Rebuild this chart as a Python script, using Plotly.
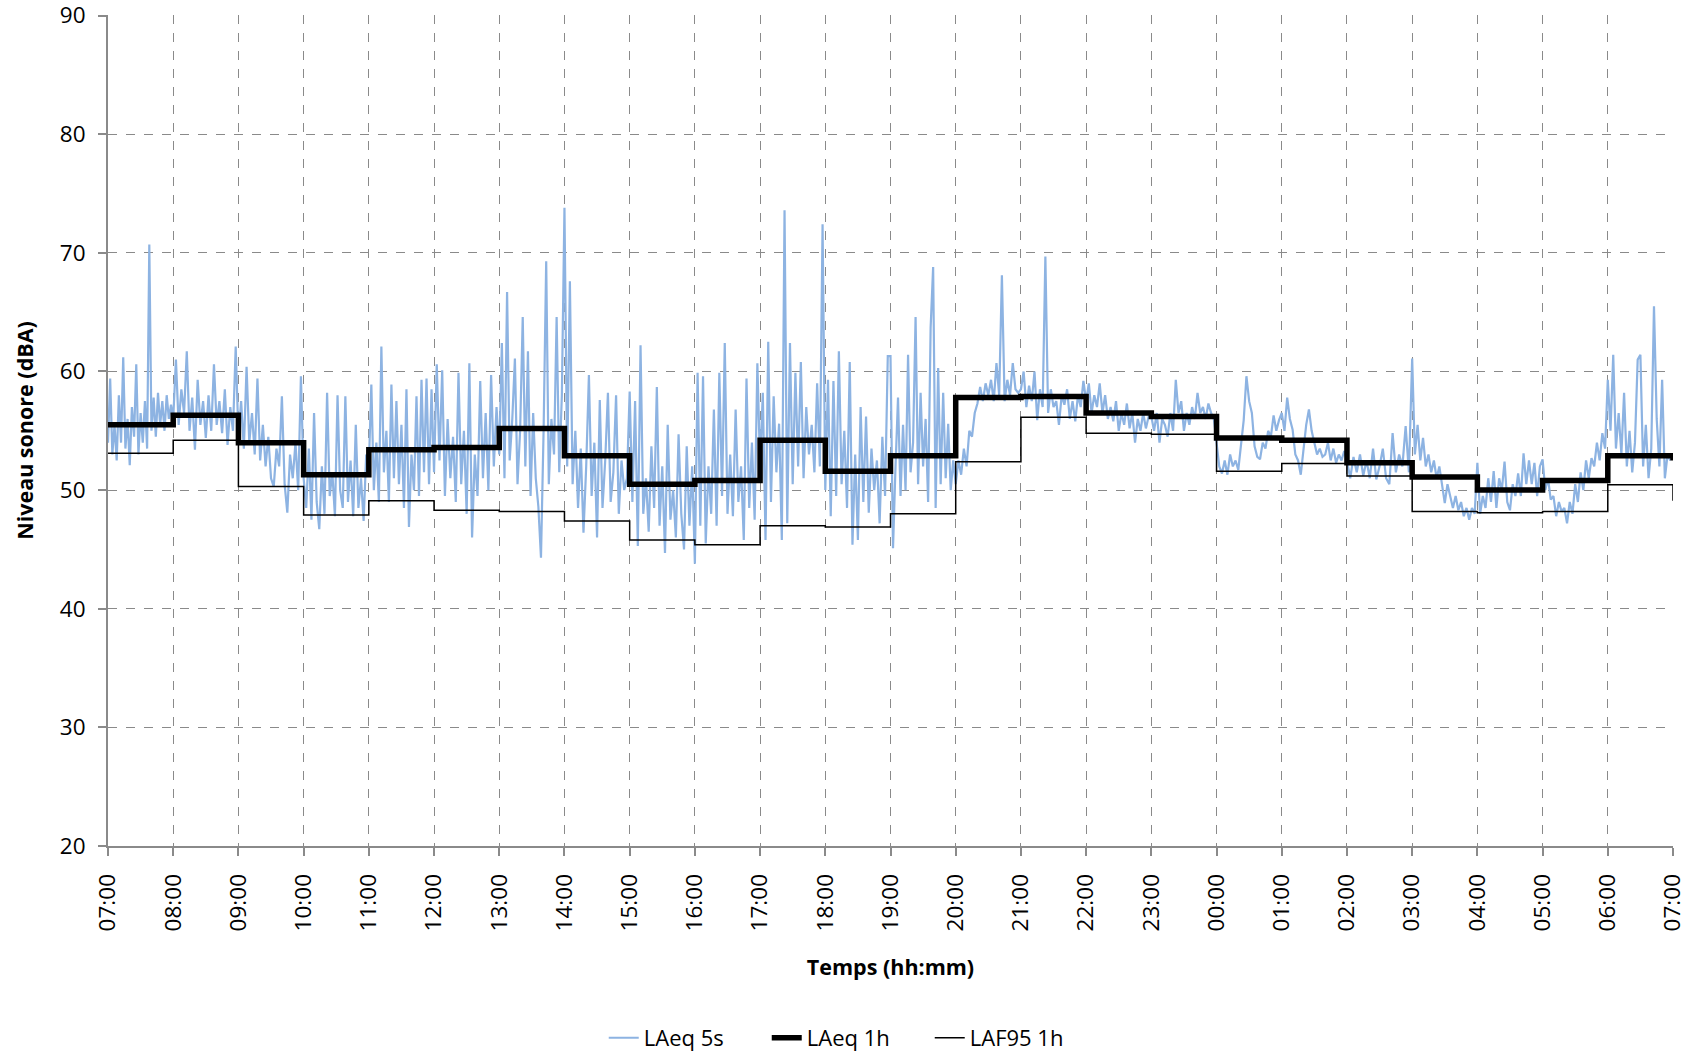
import plotly.graph_objects as go

# ---------------- data ----------------
tick_labels = ["07:00", "08:00", "09:00", "10:00", "11:00", "12:00", "13:00", "14:00",
               "15:00", "16:00", "17:00", "18:00", "19:00", "20:00", "21:00", "22:00",
               "23:00", "00:00", "01:00", "02:00", "03:00", "04:00", "05:00", "06:00", "07:00"]

# LAeq 1h (one value per hour, plus closing value at 07:00)
laeq_1h = [55.5, 56.3, 54.0, 51.3, 53.4, 53.6, 55.2, 52.9, 50.5, 50.8, 54.2, 51.6,
           52.9, 57.8, 57.9, 56.5, 56.2, 54.4, 54.2, 52.3, 51.1, 50.0, 50.8, 52.9, 52.5]
# LAF95 1h
laf95_1h = [53.1, 54.2, 50.3, 47.9, 49.1, 48.3, 48.2, 47.4, 45.8, 45.4, 47.0, 46.9,
            48.0, 52.4, 56.15, 54.8, 54.7, 51.6, 52.25, 51.2, 48.2, 48.1, 48.2, 50.45, 49.1]

# LAeq 5s, read hour by hour
h07 = [54.0, 59.4, 53.0, 55.5, 52.5, 58.0, 54.0, 61.2, 53.5, 56.0, 52.1, 57.0, 54.5, 60.6, 53.0,
       56.5, 54.0, 57.5, 53.5, 70.7, 55.0, 57.8, 54.5, 58.2, 55.5, 57.5, 55.0, 58.0, 56.0, 57.2]
h08 = [56.0, 61.0, 55.5, 58.5, 56.5, 61.7, 55.0, 57.8, 53.4, 59.3, 55.5, 57.5, 54.4, 58.0, 55.0,
       60.6, 55.5, 57.5, 54.8, 58.5, 53.8, 57.0, 55.0, 62.1]
h09 = [54.5, 57.5, 53.5, 60.4, 54.0, 56.5, 53.0, 59.4, 52.5, 55.5, 52.0, 54.5, 51.0, 50.3, 53.5,
       52.0, 57.9, 50.5, 48.1, 53.0, 51.0, 54.0, 50.0, 59.6]
h10 = [51.0, 48.5, 53.5, 47.5, 56.5, 49.0, 46.7, 52.0, 48.0, 58.2, 49.5, 51.5, 47.8, 58.0, 50.0,
       48.5, 57.9, 49.0, 52.5, 47.8, 55.5, 48.5, 51.0, 47.4, 53.0]
h11 = [52.0, 58.9, 50.0, 54.0, 49.0, 62.1, 51.5, 55.0, 49.0, 58.9, 51.0, 57.5, 50.5, 55.5, 48.5,
       58.5, 46.9, 53.0, 50.0, 57.9, 49.5, 59.3, 51.5, 59.4, 50.5, 58.5]
h12 = [51.5, 60.6, 52.5, 60.1, 49.5, 56.0, 51.0, 54.5, 49.0, 59.9, 50.5, 55.0, 48.0, 60.7, 46.0,
       53.0, 49.5, 59.2, 51.0, 56.5, 50.0, 59.7, 52.0, 57.0]
h13 = [53.0, 62.4, 51.0, 66.7, 52.5, 56.0, 61.1, 50.5, 55.0, 64.6, 52.0, 61.7, 49.5, 56.5, 51.0,
       48.6, 44.3, 55.0, 69.3, 50.5, 56.0, 53.0, 64.6, 51.5, 58.0]
h14 = [73.8, 52.0, 67.6, 50.5, 55.0, 48.5, 53.5, 46.4, 52.0, 59.7, 49.5, 54.0, 46.0, 57.6, 48.5,
       52.5, 58.2, 49.0, 51.5, 58.0, 48.0, 52.5, 50.0, 51.0]
h15 = [58.3, 49.0, 57.5, 45.3, 62.2, 48.0, 51.0, 46.5, 53.7, 48.5, 58.7, 47.0, 52.0, 44.7, 55.5,
       47.5, 50.0, 46.0, 54.7, 48.0, 45.0, 53.7, 47.0, 52.0]
h16 = [43.8, 59.9, 47.0, 59.6, 45.5, 52.0, 48.0, 56.8, 47.0, 59.9, 49.5, 62.4, 48.0, 53.0, 47.8,
       56.8, 49.0, 52.0, 45.8, 59.4, 48.5, 54.0, 47.5, 60.7]
h17 = [52.0, 58.2, 45.8, 62.5, 49.0, 57.9, 51.5, 55.6, 45.8, 73.6, 47.2, 62.4, 50.5, 59.9, 52.0,
       60.8, 51.0, 57.0, 53.0, 55.5, 51.5, 59.0, 52.0, 72.4]
h18 = [50.0, 59.3, 47.8, 59.2, 49.5, 61.7, 50.5, 55.0, 48.5, 60.8, 45.4, 53.0, 45.8, 57.0, 49.0,
       56.2, 48.1, 53.5, 50.0, 52.5, 47.2, 54.5, 49.5, 61.3]
h19 = [61.3, 45.1, 52.0, 57.8, 49.5, 55.5, 50.0, 61.4, 51.5, 54.0, 64.6, 50.5, 58.2, 52.0, 56.0,
       49.0, 63.7, 68.8, 48.5, 60.3, 50.5, 58.2, 51.0, 55.6, 50.0, 52.5]
h20 = [50.5, 52.5, 51.3, 53.5, 52.0, 55.0, 54.5, 56.5, 57.3, 58.7, 57.5, 59.0, 58.0, 59.3, 57.5,
       60.7, 58.0, 68.1, 57.5, 59.3, 58.0, 60.7, 58.5, 58.2]
h21 = [58.5, 60.0, 57.0, 58.8, 57.5, 60.0, 55.9, 58.5, 57.0, 69.7, 56.5, 58.5, 57.0, 57.5, 55.5,
       58.0, 57.2, 58.5, 56.0, 57.5, 55.8, 58.0, 57.0, 59.2]
h22 = [57.5, 59.0, 56.5, 58.0, 57.0, 59.0, 56.5, 58.0, 56.0, 57.0, 55.8, 57.5, 55.0, 56.5, 55.5,
       57.3, 55.2, 56.5, 54.0, 56.0, 55.0, 56.5, 55.2, 56.2]
h23 = [56.2, 55.0, 56.5, 54.0, 56.0, 55.5, 54.5, 56.5, 55.0, 59.3, 56.5, 57.5, 55.0, 56.5, 55.5,
       57.0, 56.0, 58.2, 56.5, 57.0, 56.0, 57.3, 56.5, 56.0]
h00 = [54.0, 52.0, 51.4, 52.5, 51.3, 53.0, 52.0, 52.5, 51.7, 53.7, 55.9, 59.6, 57.5, 56.5, 53.7,
       52.8, 52.6, 54.0, 53.5, 55.0, 54.5, 56.3, 55.0, 55.9]
h01 = [56.5, 55.0, 57.8, 56.0, 55.1, 53.0, 52.5, 51.3, 53.5, 55.5, 56.8, 55.0, 54.0, 53.0, 53.5,
       52.8, 53.0, 54.0, 52.5, 53.5, 52.3, 53.0, 52.5, 53.3]
h02 = [52.5, 51.0, 52.8, 51.5, 53.0, 51.2, 52.5, 51.0, 53.5, 50.9, 52.0, 53.5, 51.0, 50.5, 54.8,
       51.5, 53.0, 52.0, 55.4, 51.5]
h03 = [61.1, 53.0, 55.5, 52.5, 54.4, 52.0, 53.0, 51.5, 52.5, 51.0, 52.0, 50.5, 48.9, 50.5, 49.5,
       48.5, 49.5, 48.3, 49.0, 47.8, 48.5, 47.5, 48.5, 48.0]
h04 = [52.3, 48.0, 49.5, 48.5, 51.0, 49.0, 51.6, 48.5, 51.0, 50.0, 52.4, 49.0, 48.3, 50.5, 49.5,
       51.4, 49.5, 53.1, 50.5, 52.5, 50.5, 52.3, 49.5, 52.0]
h05 = [52.6, 50.0, 51.0, 49.2, 49.5, 47.8, 49.0, 48.2, 48.5, 47.2, 49.0, 48.0, 50.5, 49.0, 51.5,
       50.0, 52.5, 51.0, 52.7, 52.0, 54.0, 52.5, 54.8, 53.5]
h06 = [59.3, 55.0, 61.4, 53.5, 56.5, 53.0, 58.2, 52.0, 55.0, 51.5, 54.0, 61.0, 61.4, 52.0, 55.5,
       51.0, 53.5, 65.5, 56.0, 52.0, 59.3, 51.0, 53.0, 52.5]

hourly_5s = [h07, h08, h09, h10, h11, h12, h13, h14, h15, h16, h17, h18,
             h19, h20, h21, h22, h23, h00, h01, h02, h03, h04, h05, h06]

# ---------------- build ----------------
x5, y5 = [], []
for h, vals in enumerate(hourly_5s):
    n = len(vals)
    for i, v in enumerate(vals):
        x5.append(h + i / n)
        y5.append(v)

x_hours = list(range(len(laeq_1h)))

fig = go.Figure()
fig.add_trace(go.Scatter(x=x5, y=y5, mode="lines", name="LAeq 5s",
                         line=dict(color="#8DB3E2", width=2.2)))
fig.add_trace(go.Scatter(x=x_hours, y=laeq_1h, mode="lines", name="LAeq 1h",
                         line=dict(color="black", width=5.5, shape="hv")))
fig.add_trace(go.Scatter(x=x_hours, y=laf95_1h, mode="lines", name="LAF95 1h",
                         line=dict(color="black", width=1.5, shape="hv")))

tick_font = dict(family="Open Sans", size=22.5, color="black")
title_font = dict(family="Open Sans", size=21.5, color="black")

fig.update_layout(
    width=1698, height=1052,
    margin=dict(l=108, r=25, t=15, b=206, autoexpand=False),
    paper_bgcolor="white", plot_bgcolor="white",
    showlegend=True,
    legend=dict(orientation="h", x=0.473, xanchor="center", y=-0.231, yanchor="middle",
                font=dict(family="Open Sans", size=22, color="black"),
                entrywidth=118, entrywidthmode="pixels", traceorder="normal"),
)
fig.update_xaxes(
    range=[0, 24], tickmode="array", tickvals=list(range(25)), ticktext=tick_labels,
    tickangle=-90, tickfont=tick_font, ticklabelstandoff=9, automargin=False,
    showgrid=True, gridcolor="#8a8a8a", griddash="dash", gridwidth=1.3,
    showline=True, linecolor="#8a8a8a", linewidth=2,
    ticks="outside", ticklen=8, tickcolor="#8a8a8a", tickwidth=2,
    zeroline=False,
    title=dict(text="<b>Temps (hh:mm)</b>", font=title_font, standoff=30),
)
fig.update_yaxes(
    range=[20, 90.05], tickmode="array", tickvals=[20, 30, 40, 50, 60, 70, 80, 90],
    tickfont=tick_font, ticklabelstandoff=8, automargin=False,
    ticklabeloverflow="allow",
    showgrid=True, gridcolor="#8a8a8a", griddash="dash", gridwidth=1.3,
    showline=True, linecolor="#8a8a8a", linewidth=2,
    ticks="outside", ticklen=8, tickcolor="#8a8a8a", tickwidth=2,
    zeroline=False,
    title=dict(text="<b>Niveau sonore (dBA)</b>", font=title_font, standoff=20),
)

fig.write_html("out.html")
